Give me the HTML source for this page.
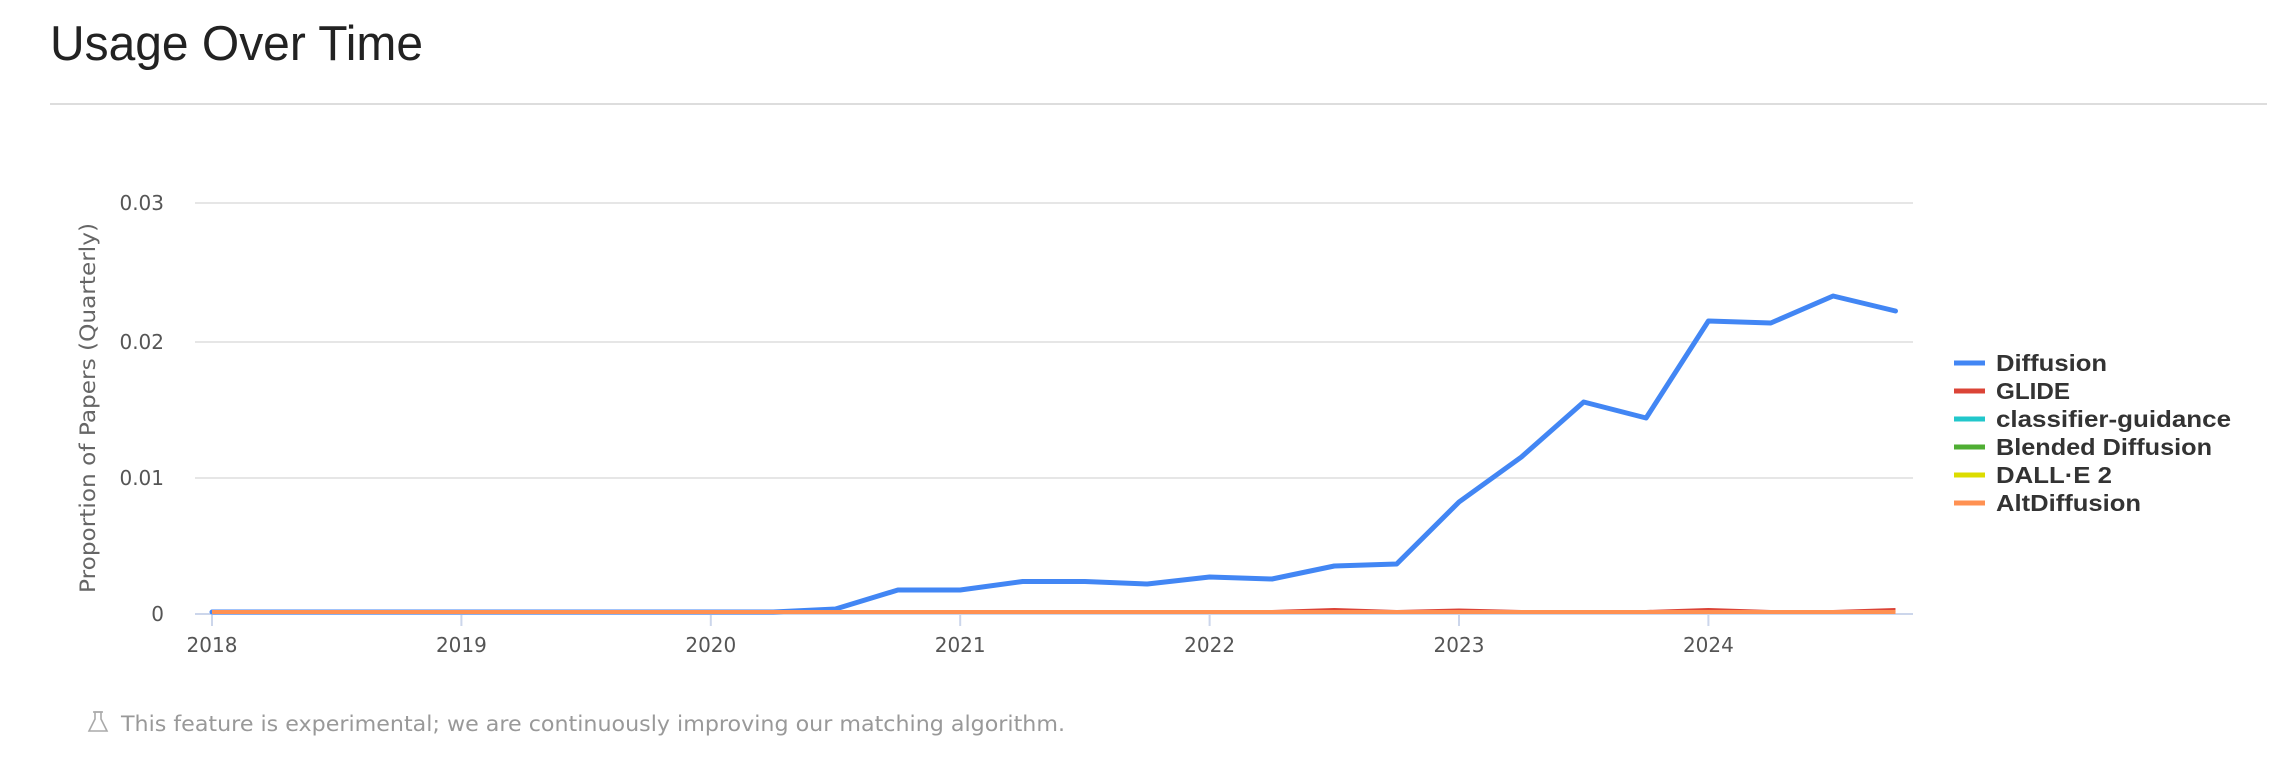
<!DOCTYPE html>
<html><head><meta charset="utf-8"><style>
html,body{margin:0;padding:0;background:#fff;width:2286px;height:768px;overflow:hidden;font-family:"Liberation Sans",sans-serif}
</style></head><body>
<svg width="2286" height="768" xmlns="http://www.w3.org/2000/svg" style="position:absolute;left:0;top:0">
<text x="50" y="60" font-size="49" fill="#222" font-family="Liberation Sans, sans-serif" textLength="373" lengthAdjust="spacingAndGlyphs">Usage Over Time</text>
<line x1="50" y1="104" x2="2267" y2="104" stroke="#ddd" stroke-width="2"/>
<g stroke="#e6e6e6" stroke-width="2">
<line x1="195" y1="203" x2="1913" y2="203"/>
<line x1="195" y1="342" x2="1913" y2="342"/>
<line x1="195" y1="478" x2="1913" y2="478"/>
</g>
<line x1="195" y1="614" x2="1913" y2="614" stroke="#ccd6eb" stroke-width="2"/>
<g stroke="#ccd6eb" stroke-width="2">
<line x1="212" y1="614" x2="212" y2="626"/><line x1="461.4" y1="614" x2="461.4" y2="626"/>
<line x1="710.8" y1="614" x2="710.8" y2="626"/><line x1="960.2" y1="614" x2="960.2" y2="626"/>
<line x1="1209.6" y1="614" x2="1209.6" y2="626"/><line x1="1459" y1="614" x2="1459" y2="626"/>
<line x1="1708.4" y1="614" x2="1708.4" y2="626"/>
</g>
<g font-size="20" fill="#555" text-anchor="end" font-family="DejaVu Sans, sans-serif">
<text x="164" y="210">0.03</text><text x="164" y="349">0.02</text>
<text x="164" y="485">0.01</text><text x="164" y="621">0</text>
</g>
<g font-size="20" fill="#555" text-anchor="middle" font-family="DejaVu Sans, sans-serif">
<text x="212" y="652">2018</text><text x="461.4" y="652">2019</text><text x="710.8" y="652">2020</text>
<text x="960.2" y="652">2021</text><text x="1209.6" y="652">2022</text><text x="1459" y="652">2023</text>
<text x="1708.4" y="652">2024</text>
</g>
<text transform="translate(95,408) rotate(-90)" font-size="21" fill="#666" text-anchor="middle" font-family="DejaVu Sans, sans-serif" textLength="370" lengthAdjust="spacingAndGlyphs">Proportion of Papers (Quarterly)</text>
<polyline fill="none" stroke="#4286f4" stroke-width="5" stroke-linejoin="round" stroke-linecap="round"
points="212,612 773.2,612 835.5,609 897.9,590 960.2,590 1022.6,581.5 1084.9,581.5 1147.3,584 1209.6,577 1272,579 1334.3,566 1396.7,564 1459,502 1521.4,457 1583.7,402 1646.1,418 1708.4,321 1770.8,323 1833.1,296 1895.5,311"/>
<polyline fill="none" stroke="#db4437" stroke-width="4" stroke-linejoin="round"
points="212,612 1272,612 1334.3,610 1396.7,612 1459,610.5 1521.4,612 1583.7,612 1646.1,612 1708.4,610 1770.8,612 1833.1,612 1895.5,610"/>
<polyline fill="none" stroke="#ff9152" stroke-width="4" points="212,612 1895.5,612"/>
<g stroke-width="5">
<line x1="1954" y1="363" x2="1985" y2="363" stroke="#4286f4"/>
<line x1="1954" y1="391" x2="1985" y2="391" stroke="#db4437"/>
<line x1="1954" y1="419" x2="1985" y2="419" stroke="#22c7cb"/>
<line x1="1954" y1="447" x2="1985" y2="447" stroke="#4fae33"/>
<line x1="1954" y1="475" x2="1985" y2="475" stroke="#dcdc00"/>
<line x1="1954" y1="503" x2="1985" y2="503" stroke="#ff9152"/>
</g>
<g font-size="23" font-weight="bold" fill="#333">
<text x="1996" y="371" textLength="111" lengthAdjust="spacingAndGlyphs">Diffusion</text>
<text x="1996" y="399" textLength="74" lengthAdjust="spacingAndGlyphs">GLIDE</text>
<text x="1996" y="427" textLength="235" lengthAdjust="spacingAndGlyphs">classifier-guidance</text>
<text x="1996" y="455" textLength="216" lengthAdjust="spacingAndGlyphs">Blended Diffusion</text>
<text x="1996" y="483" textLength="116" lengthAdjust="spacingAndGlyphs">DALL·E 2</text>
<text x="1996" y="511" textLength="145" lengthAdjust="spacingAndGlyphs">AltDiffusion</text>
</g>
<g stroke="#aaa" stroke-width="1.6" fill="none">
<path d="M95,712 L95,719 L89,731 L107,731 L101,719 L101,712 Z"/><line x1="93" y1="712" x2="103" y2="712"/>
</g>
<text x="121" y="731" font-size="21" fill="#999" font-family="DejaVu Sans, sans-serif" textLength="944" lengthAdjust="spacingAndGlyphs">This feature is experimental; we are continuously improving our matching algorithm.</text>
</svg>
</body></html>
